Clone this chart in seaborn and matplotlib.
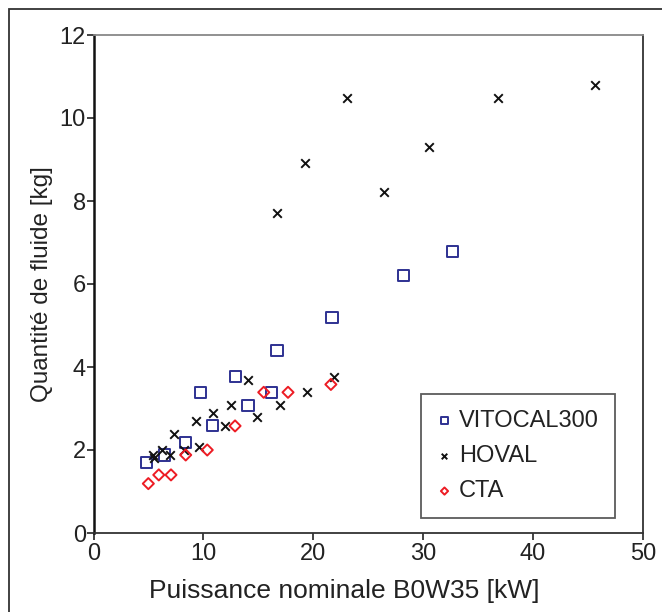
import matplotlib
matplotlib.use("Agg")
import matplotlib.pyplot as plt
import seaborn as sns
import pandas as pd
from matplotlib.patches import Rectangle

# ---- data ----
vito_x = [4.82, 6.46, 8.37, 9.7, 10.85, 12.9, 14.06, 16.2, 16.7, 21.7, 28.2, 32.7]
vito_y = [1.69, 1.88, 2.19, 3.39, 2.58, 3.77, 3.08, 3.39, 4.39, 5.2, 6.2, 6.78]

hoval_x = [5.37, 5.5, 6.19, 6.96, 7.35, 8.19, 9.35, 9.63, 10.85, 11.97, 12.48, 14.03,
           14.9, 16.97, 19.45, 21.9, 16.7, 19.2, 23.07, 26.4, 30.5, 36.8, 45.6]
hoval_y = [1.89, 1.81, 2.0, 1.89, 2.38, 1.99, 2.70, 2.07, 2.90, 2.58, 3.08, 3.69,
           2.80, 3.08, 3.39, 3.77, 7.70, 8.91, 10.48, 8.22, 9.29, 10.48, 10.79]

cta_x = [4.99, 5.94, 7.05, 8.39, 10.35, 12.88, 15.49, 17.7, 21.6]
cta_y = [1.19, 1.40, 1.40, 1.88, 2.0, 2.58, 3.39, 3.39, 3.58]

series_names = ["VITOCAL300", "HOVAL", "CTA"]
x_ticks = [0, 10, 20, 30, 40, 50]
y_ticks = [0, 2, 4, 6, 8, 10, 12]
x_label = "Puissance nominale B0W35 [kW]"
y_label = "Quantité de fluide [kg]"

df = pd.concat([
    pd.DataFrame({"x": vito_x, "y": vito_y, "serie": series_names[0]}),
    pd.DataFrame({"x": hoval_x, "y": hoval_y, "serie": series_names[1]}),
    pd.DataFrame({"x": cta_x, "y": cta_y, "serie": series_names[2]}),
])

sns.set_theme(style="white")
plt.rcParams["font.family"] = ["Liberation Sans", "DejaVu Sans"]

fig = plt.figure(figsize=(6.62, 6.12), dpi=100)
ax = fig.add_axes([93.5 / 662, 1 - 533 / 612, (643 - 93.5) / 662, (533 - 35) / 612])

blue = "#2e3192"
red = "#ed1c24"

d = df[df.serie == series_names[0]]
sns.scatterplot(data=d, x="x", y="y", marker="s", s=64, facecolor="none",
                edgecolor=blue, color=blue, linewidth=1.4, ax=ax, label=series_names[0])
d = df[df.serie == series_names[1]]
sns.scatterplot(data=d, x="x", y="y", marker="x", s=38, color="#111111",
                linewidth=1.4, ax=ax, label=series_names[1])
d = df[df.serie == series_names[2]]
sns.scatterplot(data=d, x="x", y="y", marker="D", s=32, facecolor="none",
                edgecolor=red, color=red, linewidth=1.4, ax=ax, label=series_names[2])

ax.set_xlim(0, 50)
ax.set_ylim(0, 12)
ax.set_xticks(x_ticks)
ax.set_yticks(y_ticks)
ax.tick_params(axis="both", which="both", direction="out", length=5, width=1.2,
               color="#222222", labelsize=17, labelcolor="#222222",
               bottom=True, left=True)
ax.tick_params(axis="y", pad=0.5)
ax.tick_params(axis="x", pad=2)
for name, sp in ax.spines.items():
    sp.set_visible(True)
    sp.set_color("#333333")
    sp.set_linewidth(1.3)
ax.spines["top"].set_color("#888888")
ax.spines["left"].set_color("#111111")
ax.spines["left"].set_linewidth(1.8)

ax.set_xlabel(x_label, fontsize=19, color="#222222", va="center")
ax.xaxis.set_label_coords((344 - 93.5) / 549.5, (533 - 591) / 498)
ax.set_ylabel(y_label, fontsize=17.5, color="#222222", va="center")
ax.yaxis.set_label_coords((42 - 93.5) / 549.5, 0.5)

leg = ax.legend(loc="upper left", bbox_to_anchor=(421 / 662, 1 - 394 / 612),
                bbox_transform=fig.transFigure, fontsize=17, frameon=True,
                fancybox=False, edgecolor="#333333", borderpad=0.67,
                labelspacing=0.56, handletextpad=0.3, handlelength=0.65,
                markerscale=0.65, borderaxespad=0)
leg.get_frame().set_linewidth(1.3)
for t in leg.get_texts():
    t.set_color("#222222")

fig.patches.append(Rectangle((9 / 662, -0.1), 1.2, 1.1 - 9 / 612, transform=fig.transFigure,
                             fill=False, edgecolor="#333333", linewidth=1.3))

fig.savefig("out.png", dpi=100)
